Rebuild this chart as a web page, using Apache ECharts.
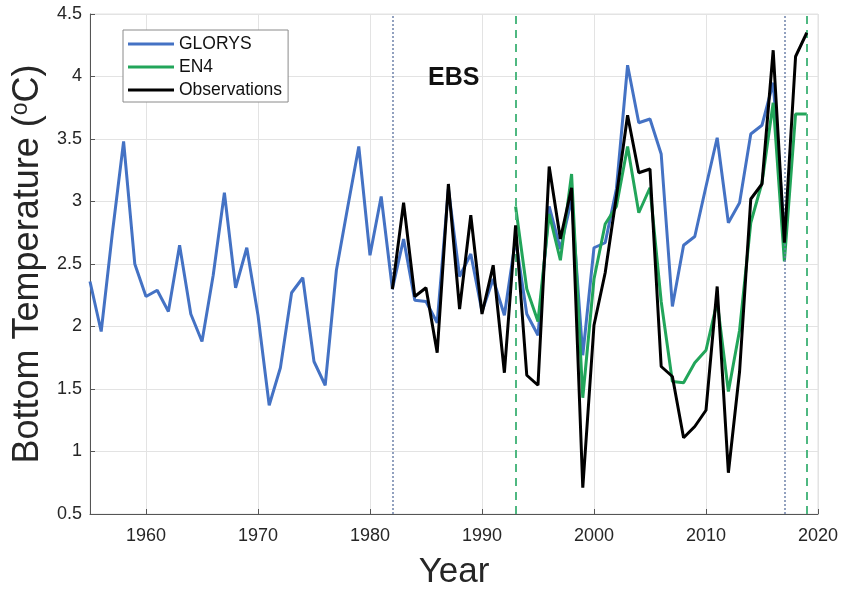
<!DOCTYPE html>
<html>
<head>
<meta charset="utf-8">
<script src="https://cdn.jsdelivr.net/npm/echarts@6/dist/echarts.min.js"></script>
<style>
  html, body { margin: 0; padding: 0; background: #fff; }
  #chart { width: 841px; height: 595px; }
</style>
</head>
<body>
<div id="chart"></div>
<script>
// Eastern Bering Sea bottom temperature: reanalysis, EN4 and survey observations
const gloryYears = [];
for (let y = 1955; y <= 2017; y++) gloryYears.push(y);
const gloryValues = [
  2.36, 1.96, 2.75, 3.48, 2.50, 2.24, 2.29, 2.12, 2.65, 2.10,
  1.88, 2.41, 3.07, 2.31, 2.63, 2.09, 1.37, 1.67, 2.27, 2.39,
  1.72, 1.53, 2.45, 2.95, 3.44, 2.57, 3.04, 2.30, 2.70, 2.21,
  2.20, 2.03, 3.10, 2.40, 2.58, 2.12, 2.38, 2.09, 2.70, 2.10,
  1.93, 2.96, 2.62, 3.02, 1.77, 2.63, 2.67, 3.10, 4.09, 3.63,
  3.66, 3.38, 2.16, 2.65, 2.72, 3.12, 3.51, 2.83, 2.99, 3.54,
  3.61, 3.95, 2.75
];

const en4Years = [];
for (let y = 1993; y <= 2019; y++) en4Years.push(y);
const en4Values = [
  2.96, 2.30, 2.04, 2.90, 2.53, 3.22, 1.43, 2.38, 2.82, 2.96,
  3.44, 2.91, 3.11, 2.20, 1.56, 1.55, 1.71, 1.81, 2.20, 1.48,
  1.97, 2.83, 3.15, 3.79, 2.52, 3.70, 3.70
];

const obsYears = [];
for (let y = 1982; y <= 2019; y++) obsYears.push(y);
const obsValues = [
  2.30, 2.99, 2.24, 2.31, 1.79, 3.14, 2.14, 2.89, 2.10, 2.49,
  1.63, 2.81, 1.61, 1.53, 3.28, 2.70, 3.11, 0.71, 2.01, 2.43,
  3.04, 3.69, 3.23, 3.26, 1.68, 1.60, 1.11, 1.20, 1.33, 2.32,
  0.83, 1.64, 3.02, 3.14, 4.21, 2.67, 4.16, 4.35
];

// Period boundaries: dotted = GLORYS/observation span, dashed = EN4 span
const dottedYears = [1982, 2017];
const dashedYears = [1993, 2019];

const seriesNames = ['GLORYS', 'EN4', 'Observations'];
const regionLabel = 'EBS';

const FONT = '"Liberation Sans", Arial, Helvetica, sans-serif';
const pairs = (xs, vs) => xs.map((x, i) => [x, vs[i]]);

const chart = echarts.init(document.getElementById('chart'), null, { renderer: 'canvas' });

chart.setOption({
  animation: false,
  backgroundColor: '#ffffff',
  textStyle: { fontFamily: FONT },
  grid: {
    left: 90, right: 20.5, top: 14, bottom: 78,
    show: true, borderColor: '#e3e3e3', borderWidth: 1, backgroundColor: 'transparent'
  },
  legend: {
    orient: 'vertical',
    left: 123, top: 30,
    data: seriesNames,
    icon: 'rect',
    itemWidth: 46, itemHeight: 3,
    itemGap: 3,
    padding: [4, 6, 2, 5],
    borderColor: '#8a8a8a', borderWidth: 1,
    backgroundColor: '#ffffff',
    textStyle: { fontFamily: FONT, fontSize: 17.5, color: '#111', lineHeight: 20 }
  },
  xAxis: {
    type: 'value',
    min: 1955, max: 2020,
    minInterval: 10, maxInterval: 10,
    name: 'Year',
    nameLocation: 'middle',
    nameGap: 41,
    nameTextStyle: { fontFamily: FONT, fontSize: 35, color: '#262626' },
    axisLine: { show: true, onZero: false, lineStyle: { color: '#555', width: 1 } },
    axisTick: { show: true, inside: true, length: 5, lineStyle: { color: '#555' } },
    axisLabel: {
      fontFamily: FONT, fontSize: 18, color: '#262626', margin: 13, showMinLabel: false,
      formatter: v => String(v)
    },
    splitLine: { show: true, lineStyle: { color: '#e3e3e3', width: 1 } }
  },
  yAxis: {
    type: 'value',
    min: 0.5, max: 4.5, interval: 0.5,
    name: 'Bottom Temperature ({sup|o}C)',
    nameLocation: 'middle',
    nameRotate: 90,
    nameGap: 41,
    nameTextStyle: {
      fontFamily: FONT, fontSize: 36, color: '#262626',
      rich: { sup: { fontFamily: FONT, fontSize: 23, color: '#262626', verticalAlign: 'top', padding: [0, 0, 14, 0] } }
    },
    axisLine: { show: true, lineStyle: { color: '#555', width: 1 } },
    axisTick: { show: true, inside: true, length: 5, lineStyle: { color: '#555' } },
    axisLabel: { fontFamily: FONT, fontSize: 18, color: '#262626', margin: 8 },
    splitLine: { show: true, lineStyle: { color: '#e3e3e3', width: 1 } }
  },
  graphic: [{
    type: 'text',
    left: 428, top: 66,
    style: { text: regionLabel, font: 'bold 25px ' + FONT, fill: '#111' },
    z: 10
  }],
  series: [
    {
      name: 'GLORYS', type: 'line', data: pairs(gloryYears, gloryValues),
      symbol: 'none', color: '#4472C4', lineStyle: { width: 3, color: '#4472C4' }, z: 3,
      markLine: {
        silent: true, symbol: ['none', 'none'], label: { show: false },
        lineStyle: { type: [2, 2], color: '#6f82aa', width: 1.5 },
        data: dottedYears.map(v => ({ xAxis: v }))
      }
    },
    {
      name: 'EN4', type: 'line', data: pairs(en4Years, en4Values),
      symbol: 'none', color: '#22A55A', lineStyle: { width: 3, color: '#22A55A' }, z: 4,
      markLine: {
        silent: true, symbol: ['none', 'none'], label: { show: false },
        lineStyle: { type: [8, 6], color: '#4fb881', width: 2 },
        data: dashedYears.map(v => ({ xAxis: v }))
      }
    },
    {
      name: 'Observations', type: 'line', data: pairs(obsYears, obsValues),
      symbol: 'none', color: '#000000', lineStyle: { width: 3, color: '#000000' }, z: 5
    }
  ]
});
</script>
</body>
</html>
